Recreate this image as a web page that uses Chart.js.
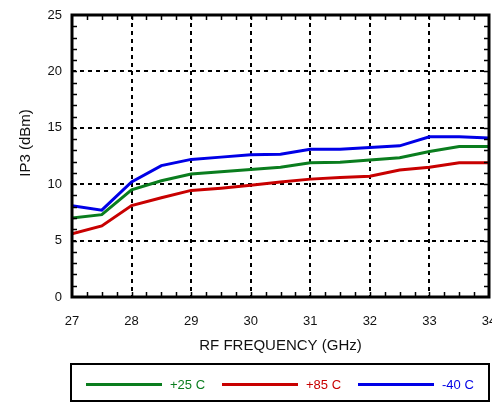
<!DOCTYPE html>
<html>
<head>
<meta charset="utf-8">
<script src="https://cdn.jsdelivr.net/npm/chart.js@4.4.0/dist/chart.umd.min.js"></script>
<style>
  html, body { margin: 0; padding: 0; background: #fff; }
</style>
</head>
<body>
<canvas id="chart-ip3" width="492" height="410"></canvas>
<script>
// IP3 vs RF frequency, three temperatures
const freqGHz = [27, 27.5, 28, 28.5, 29, 29.5, 30, 30.5, 31, 31.5, 32, 32.5, 33, 33.5, 34];
const ip3Plus25 = [7.0, 7.3, 9.5, 10.3, 10.9, 11.1, 11.3, 11.5, 11.9, 11.95, 12.15, 12.35, 12.9, 13.35, 13.35];
const ip3Plus85 = [5.6, 6.3, 8.1, 8.8, 9.45, 9.65, 9.9, 10.2, 10.45, 10.6, 10.7, 11.25, 11.5, 11.9, 11.9];
const ip3Minus40 = [8.1, 7.7, 10.2, 11.65, 12.2, 12.4, 12.6, 12.65, 13.1, 13.1, 13.25, 13.4, 14.2, 14.2, 14.1];
const seriesLabels = ['+25 C', '+85 C', '-40 C'];
const seriesColors = ['#0a7d1e', '#c80000', '#0000e6'];
const yTitle = 'IP3 (dBm)';

const FONT = "'Liberation Sans', Arial, Helvetica, sans-serif";

function toPoints(ys) {
  return freqGHz.map((f, i) => ({ x: f, y: ys[i] }));
}

const frameAndLegend = {
  id: 'frameAndLegend',
  afterDraw: (chart) => {
    const ctx = chart.ctx;
    const { left, right, top, bottom } = chart.chartArea;
    const xs = chart.scales.x;
    const ys = chart.scales.y;
    ctx.save();
    ctx.strokeStyle = '#000';
    ctx.lineWidth = 3;
    ctx.strokeRect(left, top, right - left, bottom - top);

    // small inward ticks
    ctx.lineWidth = 1.5;
    ctx.beginPath();
    for (let v = 1; v < 25; v += 1) {
      const y = Math.round(ys.getPixelForValue(v)) + 0.5;
      ctx.moveTo(left, y); ctx.lineTo(left + 5, y);
      ctx.moveTo(right - 5, y); ctx.lineTo(right, y);
    }
    for (let f = 27.25; f < 34; f += 0.25) {
      const x = Math.round(xs.getPixelForValue(f)) + 0.5;
      ctx.moveTo(x, top); ctx.lineTo(x, top + 5);
      ctx.moveTo(x, bottom - 5); ctx.lineTo(x, bottom);
    }
    ctx.stroke();

    // y axis title (sits a little above the plot centre in the original)
    ctx.save();
    ctx.translate(26, 143);
    ctx.rotate(-Math.PI / 2);
    ctx.font = '15px ' + FONT;
    ctx.fillStyle = '#111';
    ctx.textAlign = 'center';
    ctx.textBaseline = 'middle';
    ctx.fillText(yTitle, 0, 0);
    ctx.restore();

    // legend box
    ctx.lineWidth = 2;
    ctx.strokeRect(71, 364, 418, 37);
    const itemX = [86, 222, 358];
    ctx.font = '13px ' + FONT;
    ctx.textBaseline = 'middle';
    chart.data.datasets.forEach((ds, i) => {
      ctx.strokeStyle = ds.borderColor;
      ctx.lineWidth = 3;
      ctx.beginPath();
      ctx.moveTo(itemX[i], 384.5);
      ctx.lineTo(itemX[i] + 76, 384.5);
      ctx.stroke();
      ctx.fillStyle = ds.borderColor;
      ctx.fillText(ds.label, itemX[i] + 84, 385);
    });
    ctx.restore();
  },
};

new Chart(document.getElementById('chart-ip3'), {
  type: 'line',
  data: {
    datasets: [
      { label: seriesLabels[0], data: toPoints(ip3Plus25), borderColor: seriesColors[0] },
      { label: seriesLabels[1], data: toPoints(ip3Plus85), borderColor: seriesColors[1] },
      { label: seriesLabels[2], data: toPoints(ip3Minus40), borderColor: seriesColors[2] },
    ],
  },
  options: {
    responsive: false,
    animation: false,
    layout: { padding: { left: 0, top: 15, right: 3, bottom: 53 } },
    elements: {
      line: { borderWidth: 3, tension: 0 },
      point: { radius: 0 },
    },
    plugins: {
      legend: { display: false },
      tooltip: { enabled: false },
    },
    scales: {
      x: {
        type: 'linear',
        min: 27,
        max: 34,
        ticks: { stepSize: 1, padding: 17, color: '#111', font: { family: FONT, size: 13 } },
        grid: { color: '#000', lineWidth: 2, drawTicks: false },
        border: { display: false, dash: [4, 4] },
        title: {
          display: true,
          text: 'RF FREQUENCY (GHz)',
          color: '#111',
          font: { family: FONT, size: 15 },
          padding: { top: 0, bottom: 2 },
        },
        afterFit: (scale) => {
          scale.height = 60;
          scale.paddingLeft = 0;
          scale.paddingRight = 0;
        },
      },
      y: {
        min: 0,
        max: 25,
        ticks: { stepSize: 5, padding: 10, color: '#111', font: { family: FONT, size: 13 } },
        grid: { color: '#000', lineWidth: 2, drawTicks: false },
        border: { display: false, dash: [4, 4] },
        afterFit: (scale) => {
          scale.width = 72;
          scale.paddingTop = 0;
          scale.paddingBottom = 0;
        },
      },
    },
  },
  plugins: [frameAndLegend],
});
</script>
</body>
</html>
